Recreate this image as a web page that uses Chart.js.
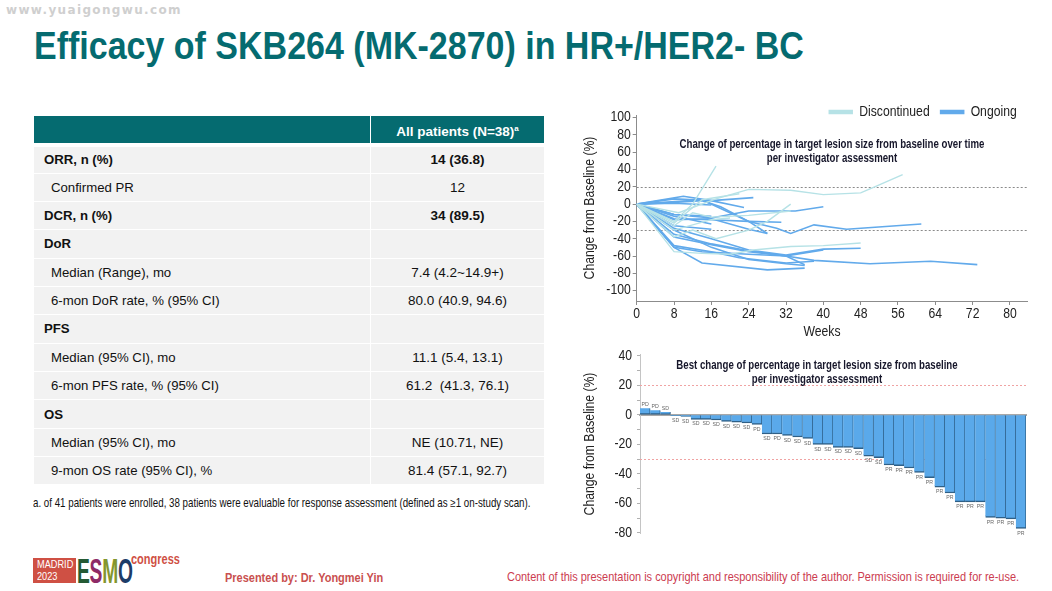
<!DOCTYPE html>
<html>
<head>
<meta charset="utf-8">
<script src="https://cdn.jsdelivr.net/npm/chart.js@4"></script>
<style>
  html, body { margin: 0; padding: 0; background: #fff; }
  body { position: relative; width: 1052px; height: 591px; overflow: hidden; font-family: "Liberation Sans", sans-serif; }
  .abs { position: absolute; white-space: nowrap; transform-origin: left center; }
  canvas { position: absolute; }
  #watermark { left: 6px; top: 3px; font-family: "DejaVu Sans", sans-serif; font-size: 12px; font-weight: bold; color: #cfcfcf; letter-spacing: 1.35px; }
  #slideTitle { left: 34px; top: 24px; font-size: 38.5px; font-weight: bold; color: #056b70; transform: scaleX(0.883); }
  #stats { position: absolute; left: 34px; top: 116px; width: 510px; border-collapse: collapse; table-layout: fixed; font-size: 13.2px; color: #111; }
  #stats th { background: #056b70; color: #fff; height: 23px; padding: 4px 0 0; font-size: 13.4px; }
  #stats td { background: #f2f2f2; height: 27.36px; padding: 0; border-top: 1px solid #fff; }
  #stats tr:nth-child(2) td { border-top: 4px solid #fff; height: 25.5px; }
  #stats td.val, #stats th.val { text-align: center; border-left: 1px solid #fff; font-size: 13.5px; }
  #stats td.lab { padding-left: 10px; }
  #stats td.sub { padding-left: 17px; }
  #stats td.b { font-weight: bold; }
  #stats sup { font-size: 8px; line-height: 0; }
  #footnote { left: 33px; top: 496px; font-size: 12.2px; color: #111; transform: scaleX(0.8); }
  .chartTitle { font-size: 12px; font-weight: bold; color: #17172b; text-align: center; line-height: 14px; width: 400px; transform-origin: center; transform: scaleX(0.805); }
  #presented { left: 225px; top: 570px; font-size: 13.4px; font-weight: bold; color: #c9504f; transform: scaleX(0.82); }
  #copyright { left: 507px; top: 569px; font-size: 13.4px; color: #cc3c50; transform: scaleX(0.819); }
  #cityBox { left: 33px; top: 558px; width: 43px; height: 25px; background: #cf5044; }
  #cityName { left: 37px; top: 559px; color: #fff; font-size: 11.5px; line-height: 11.5px; transform: scaleX(0.8); }
  #esmo { left: 77px; top: 553px; font-size: 35px; font-weight: bold; letter-spacing: -0.5px; line-height: 35px; transform: scaleX(0.55); }
  #congress { left: 131px; top: 550px; font-size: 15.5px; font-weight: bold; color: #cf5044; transform: scaleX(0.71); }
</style>
</head>
<body>
<div id="watermark" class="abs">www.yuaigongwu.com</div>
<div id="slideTitle" class="abs">Efficacy of SKB264 (MK-2870) in HR+/HER2- BC</div>
<table id="stats"></table>
<div id="footnote" class="abs">a. of 41 patients were enrolled, 38 patients were evaluable for response assessment (defined as ≥1 on-study scan).</div>

<canvas id="spiderChart" width="470" height="250" style="left:570px;top:95px"></canvas>
<canvas id="waterfallChart" width="470" height="206" style="left:570px;top:341px"></canvas>
<div class="abs chartTitle" style="left:632px;top:137px">Change of percentage in target lesion size from baseline over time<br>per investigator assessment</div>
<div class="abs chartTitle" style="left:617px;top:358px">Best change of percentage in target lesion size from baseline<br>per investigator assessment</div>

<div id="cityBox" class="abs"></div>
<div id="cityName" class="abs">MADRID<br>2023</div>
<div id="esmo" class="abs"><span style="color:#245a34">E</span><span style="color:#8e2a66">S</span><span style="color:#84962e">M</span><span style="color:#1d3c68">O</span></div>
<div id="congress" class="abs">congress</div>
<div id="presented" class="abs">Presented by: Dr. Yongmei Yin</div>
<div id="copyright" class="abs">Content of this presentation is copyright and responsibility of the author. Permission is required for re-use.</div>

<script>
// table
const rowLabels = ["ORR, n (%)", "Confirmed PR", "DCR, n (%)", "DoR", "Median (Range), mo", "6-mon DoR rate, % (95% CI)", "PFS", "Median (95% CI), mo", "6-mon PFS rate, % (95% CI)", "OS", "Median (95% CI), mo", "9-mon OS rate (95% CI), %"];
const rowValues = ["14 (36.8)", "12", "34 (89.5)", "", "7.4 (4.2~14.9+)", "80.0 (40.9, 94.6)", "", "11.1 (5.4, 13.1)", "61.2&nbsp; (41.3, 76.1)", "", "NE (10.71, NE)", "81.4 (57.1, 92.7)"];
const boldRows = [0, 2, 3, 6, 9];

// spider plot, one inner list per patient
const weekTicks = [0, 8, 16, 24, 32, 40, 48, 56, 64, 72, 80];
const spiderTicks = [-100, -80, -60, -40, -20, 0, 20, 40, 60, 80, 100];
const discontinuedWeeks = [
  [0, 8, 12, 17],
  [0, 8, 14, 22],
  [0, 8, 12, 16, 24, 33],
  [0, 9, 17, 24, 33, 40, 48, 51, 57],
  [0, 8, 12, 17, 24, 28, 33],
  [0, 8, 14, 20, 25, 33, 40, 48],
  [0, 8, 16, 20]
];
const discontinuedChange = [
  [0, -20, 0, 44],
  [0, -22, 5, 12],
  [0, -25, -10, -15, -13, -8],
  [0, -10, 6, 17, 16, 11, 13, 20, 34],
  [0, -38, -30, -40, -30, -20, 0],
  [0, -55, -57, -58, -53, -49, -48, -45],
  [0, -30, -18, -16]
];
const ongoingWeeks = [
  [0, 10, 16, 25],
  [0, 8, 16, 23],
  [0, 8, 16],
  [0, 14, 18, 24, 30, 33, 38, 45, 61],
  [0, 8, 14, 18, 24, 28],
  [0, 8, 16, 24, 34, 40],
  [0, 8, 16, 24, 31],
  [0, 8, 16],
  [0, 8, 16],
  [0, 8, 16],
  [0, 8, 16, 24, 28],
  [0, 8, 16, 24, 32, 40, 48],
  [0, 8, 16, 24, 32, 38, 50, 63, 73],
  [0, 8, 14, 24, 32, 40],
  [0, 8, 14, 28, 36],
  [0, 8, 16, 24, 32, 36],
  [0, 8, 16, 22, 32, 38],
  [0, 8, 16, 24, 32, 36]
];
const ongoingChange = [
  [0, 9, 4, 7.5],
  [0, 6, 4, -4],
  [0, 1, -1],
  [0, 5, -5, -20, -28, -34, -24, -29, -23],
  [0, 2, 4, -3, -20, -34],
  [0, -12, -16, -8, -8, -3],
  [0, -17, -18, -20, -21],
  [0, -12, -14],
  [0, -14, -23],
  [0, -25, -29],
  [0, -18, -17, -29, -34],
  [0, -28, -40, -53, -59, -52, -51],
  [0, -38, -47, -55, -60, -65, -69, -66, -70],
  [0, -50, -55, -58, -60, -53],
  [0, -50, -68, -76, -74],
  [0, -30, -50, -64, -69, -71],
  [0, -48, -55, -62, -68, -66],
  [0, -35, -46, -54, -60, -70]
];
const spiderRefLines = [20, -30];

// waterfall
const bestChange = [4.5, 3.2, 2, -0.5, -1, -3, -3, -3.5, -4.5, -5, -5.5, -6.5, -13, -13, -14, -15, -16, -20, -20, -22, -22, -23, -28, -29, -34, -34.5, -36, -39, -42.5, -49, -53, -59, -59, -59, -69.5, -70, -70.5, -77];
const bestResponse = ["PD", "PD", "SD", "SD", "SD", "SD", "SD", "SD", "SD", "SD", "SD", "PD", "SD", "PD", "SD", "SD", "SD", "SD", "SD", "SD", "SD", "SD", "SD", "SD", "PR", "PR", "PR", "PR", "PR", "PR", "PR", "PR", "PR", "PR", "PR", "PR", "PR", "PR"];
const waterfallTicks = [-80, -70, -60, -50, -40, -30, -20, -10, 0, 10, 20, 30, 40];
const waterfallRefLines = [20, -30];

const statsEl = document.getElementById("stats");
let statsHtml = '<tr><th style="width:336px"></th><th class="val">All patients (N=38)<sup>a</sup></th></tr>';
rowLabels.forEach((label, i) => {
  const bold = boldRows.includes(i);
  statsHtml += `<tr><td class="${bold ? "lab b" : "sub"}">${label}</td><td class="val${bold ? " b" : ""}">${rowValues[i]}</td></tr>`;
});
statsEl.innerHTML = statsHtml;

// the source uses Arial Narrow, which is not installed: squeeze canvas text along its own direction
const textSqueeze = 0.87;
const condenseText = (canvas) => {
  const ctx = canvas.getContext("2d");
  const fillText = ctx.fillText.bind(ctx);
  const measureText = ctx.measureText.bind(ctx);
  ctx.fillText = (text, x, y) => {
    ctx.save();
    ctx.translate(x, y);
    ctx.scale(textSqueeze, 1);
    fillText(text, 0, 0);
    ctx.restore();
  };
  ctx.measureText = (text) => ({ width: measureText(text).width * textSqueeze });
  return canvas;
};

const axisFont = { family: "'Liberation Sans'", size: 14 };
const inkColor = "#222";
const axisColor = "#8c8c8c";

// dashed response thresholds, behind the marks
const refLinesPlugin = {
  id: "refLines",
  beforeDatasetsDraw(chart, args, opts) {
    const { ctx, chartArea, scales } = chart;
    ctx.save();
    ctx.strokeStyle = opts.color;
    ctx.lineWidth = 1;
    ctx.setLineDash([2, 2]);
    opts.values.forEach((v) => {
      const y = Math.round(scales.y.getPixelForValue(v)) + 0.5;
      ctx.beginPath();
      ctx.moveTo(chartArea.left, y);
      ctx.lineTo(chartArea.right, y);
      ctx.stroke();
    });
    ctx.restore();
  }
};

// the legend overlaps the top of the plot in the source, so it only reserves part of its height
const legendPlacePlugin = {
  id: "legendPlace",
  beforeLayout(chart) {
    const fit = chart.legend.fit;
    chart.legend.fit = function () {
      fit.call(this);
      this.height = 20;
    };
  },
  afterLayout(chart) {
    chart.legend.top -= 1;
    chart.legend.bottom += 20;
  }
};

// PD / SD / PR tag at the tip of each bar
const responseTagsPlugin = {
  id: "responseTags",
  afterDatasetsDraw(chart) {
    const { ctx } = chart;
    ctx.save();
    ctx.font = "6px 'Liberation Sans'";
    ctx.fillStyle = "#666";
    ctx.textAlign = "center";
    ctx.textBaseline = "middle";
    chart.getDatasetMeta(0).data.forEach((bar, i) => {
      const offset = bestChange[i] >= 0 ? -4 : 4.5;
      ctx.fillText(bestResponse[i], bar.x, bar.y + offset);
    });
    ctx.restore();
  }
};

const toPoints = (weeks, values) => weeks.map((w, i) => ({ x: w, y: values[i] }));

const makeSeries = (label, weeks, values, color, width) => weeks.map((w, i) => ({
  label,
  data: toPoints(w, values[i]),
  borderColor: color,
  backgroundColor: color,
  borderWidth: width,
  pointRadius: 0,
  tension: 0
}));

new Chart(condenseText(document.getElementById("spiderChart")), {
  type: "line",
  data: {
    datasets: [
      ...makeSeries("Discontinued", discontinuedWeeks, discontinuedChange, "#b6e2e6", 1.4),
      ...makeSeries("Ongoing", ongoingWeeks, ongoingChange, "#62aaeb", 1.6)
    ]
  },
  options: {
    responsive: false,
    animation: false,
    layout: { padding: { right: 12.3 } },
    plugins: {
      tooltip: { enabled: false },
      refLines: { values: spiderRefLines, color: "#8a8a8a" },
      legend: {
        position: "top",
        align: "end",
        labels: {
          boxWidth: 23,
          boxHeight: 3,
          padding: 11,
          color: inkColor,
          font: axisFont,
          filter: (item, data) => data.datasets.findIndex((d) => d.label === item.text) === item.datasetIndex
        }
      }
    },
    scales: {
      x: {
        type: "linear",
        min: 0,
        max: 83.8,
        afterBuildTicks: (scale) => { scale.ticks = weekTicks.map((v) => ({ value: v })); },
        afterFit: (scale) => { scale.height = 44; },
        border: { color: axisColor },
        grid: { drawOnChartArea: false, color: axisColor, tickLength: 4 },
        ticks: { color: inkColor, font: axisFont, padding: 1, maxRotation: 0, autoSkip: false },
        // trailing spaces: the label sits left of the plot centre in the source
        title: { display: true, text: "Weeks      ", color: inkColor, font: axisFont, padding: { top: 0, bottom: 4 } }
      },
      y: {
        min: -112,
        max: 103,
        afterBuildTicks: (scale) => { scale.ticks = spiderTicks.map((v) => ({ value: v })); },
        afterFit: (scale) => { scale.width = 66.7; },
        border: { color: axisColor },
        grid: { drawOnChartArea: false, color: axisColor, tickLength: 4 },
        ticks: { color: inkColor, font: axisFont, padding: 2, autoSkip: false },
        title: { display: true, text: "Change from Baseline (%)", color: inkColor, font: axisFont, padding: { top: 12, bottom: 0 } }
      }
    }
  },
  plugins: [refLinesPlugin, legendPlacePlugin]
});

new Chart(condenseText(document.getElementById("waterfallChart")), {
  type: "bar",
  data: {
    labels: bestChange.map((v, i) => i + 1),
    datasets: [{
      label: "Best change",
      data: bestChange,
      backgroundColor: "#5aa9ea",
      borderColor: "#2e5f86",
      borderWidth: { right: 1, bottom: 1.5, left: 0, top: 0 },
      borderSkipped: false,
      categoryPercentage: 1,
      barPercentage: 1
    }]
  },
  options: {
    responsive: false,
    animation: false,
    layout: { padding: { top: 9, bottom: 12.5, right: 14 } },
    plugins: {
      legend: { display: false },
      tooltip: { enabled: false },
      refLines: { values: waterfallRefLines, color: "#f0a3a3" }
    },
    scales: {
      x: {
        type: "category",
        position: { y: 0 },
        border: { color: "#a8a8a8", width: 2 },
        grid: { display: false },
        ticks: { display: false }
      },
      y: {
        min: -80.5,
        max: 41,
        afterBuildTicks: (scale) => { scale.ticks = waterfallTicks.map((v) => ({ value: v })); },
        afterFit: (scale) => { scale.width = 70; },
        border: { color: "#c4c4c4" },
        grid: { drawOnChartArea: false, color: "#b0b0b0", tickLength: 3 },
        ticks: {
          color: inkColor,
          font: axisFont,
          padding: 5,
          autoSkip: false,
          callback: (v) => (v % 20 === 0 ? v : "")
        },
        title: { display: true, text: "Change from Baseline (%)", color: inkColor, font: axisFont, padding: { top: 12, bottom: 0 } }
      }
    }
  },
  plugins: [refLinesPlugin, responseTagsPlugin]
});
</script>
</body>
</html>
